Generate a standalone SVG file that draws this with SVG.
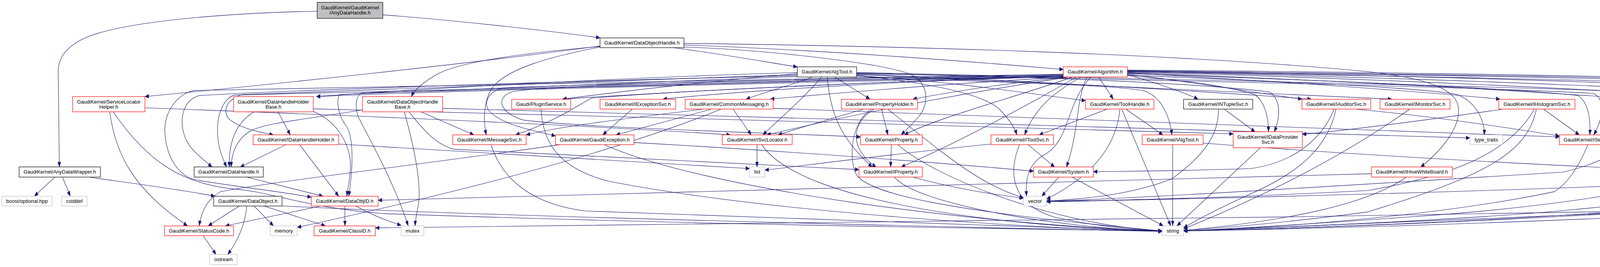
<svg xmlns="http://www.w3.org/2000/svg" width="5444" height="683" viewBox="0 0 5444 683">
<defs>
<marker id="ah" markerWidth="10" markerHeight="8" refX="10" refY="4" orient="auto" markerUnits="userSpaceOnUse"><path d="M0,0 L10,4 L0,8 z" fill="#191970" stroke="#191970" stroke-width="0.5"/></marker>
</defs>
<style>
rect{fill:#ffffff;stroke-width:1.2}
.r rect{stroke:#ff0000}
.k rect{stroke:#000000}
.g rect{stroke:#bfbfbf}
.top rect{fill:#bfbfbf;stroke:#000000}
text{font-family:"Liberation Sans",Arial,Helvetica,sans-serif;font-size:13px;text-anchor:middle;fill:#000000}
#edges path{fill:none;stroke:#191970;stroke-width:1.1;vector-effect:non-scaling-stroke;marker-end:url(#ah)}
</style>
<rect x="0" y="0" width="5444" height="683" style="fill:#ffffff;stroke:none"/>
<g id="edges" transform="scale(1,1.307)">
<path d="M812,22 C600,25 330,40 225,72 C168,90 149,115 149,140 L152,327"/>
<path d="M980,29 C1200,42 1420,62 1536,74"/>
<path d="M140,347 L88,384"/>
<path d="M160,347 L180,384"/>
<path d="M230,347 C350,360 470,372 550,384"/>
<path d="M1536,90 C1200,125 700,165 371,189"/>
<path d="M1536,91 C1350,103 1180,120 1120,145 C1085,160 1062,175 1053,189"/>
<path d="M1536,92 C1400,112 1300,135 1262,170 C1238,195 1236,235 1245,264"/>
<path d="M1720,93 C1850,106 1950,120 2041,131"/>
<path d="M1751,88 C2100,98 2450,118 2722,136"/>
<path d="M1751,92 C1950,97 2250,122 2330,145 C2380,162 2378,205 2352,228 C2338,242 2322,252 2307,264"/>
<path d="M1751,85 C2300,90 3000,104 3500,140 C3650,153 3720,172 3732,205 C3745,245 3690,295 3637,327"/>
<path d="M281,219 C295,300 340,370 480,442"/>
<path d="M290,219 C380,320 470,360 600,370 C700,376 770,405 980,418 C1800,440 2600,448 2975,452"/>
<path d="M371,211 C900,226 1500,245 1870,264"/>
<path d="M712,219 L743,264"/>
<path d="M650,219 C610,238 585,270 587,327"/>
<path d="M802,218 C870,240 900,290 897,330 C895,355 890,370 888,384"/>
<path d="M802,213 C1500,225 2600,250 3157,262"/>
<path d="M1078,219 L1213,264"/>
<path d="M1035,219 C1065,300 1080,370 1070,405 C1066,422 1063,432 1063,442"/>
<path d="M928,215 C800,232 680,240 642,256 C606,272 592,300 592,327"/>
<path d="M1047,219 C1080,250 1110,280 1160,292 C1500,305 1900,320 2199,332"/>
<path d="M1133,212 C2000,228 3100,258 3763,270"/>
<path d="M732,283 L615,327"/>
<path d="M767,283 L867,384"/>
<path d="M867,282 C1300,300 1700,318 1919,330"/>
<path d="M633,347 L827,384"/>
<path d="M613,403 L533,442"/>
<path d="M632,403 C627,440 610,470 583,498"/>
<path d="M650,403 L700,442"/>
<path d="M675,403 L833,442"/>
<path d="M722,403 C1200,422 2400,444 2975,453"/>
<path d="M883,403 L883,442"/>
<path d="M910,403 C950,420 990,432 1027,441"/>
<path d="M823,403 L577,442"/>
<path d="M520,461 L553,498"/>
<path d="M1257,283 C1285,350 1360,400 1500,413 C2200,435 2700,448 2975,453"/>
<path d="M1385,214 C1390,280 1430,330 1560,355 C2000,420 2700,448 2975,453"/>
<path d="M1618,214 L1543,264"/>
<path d="M1877,214 L1923,264"/>
<path d="M1820,214 L1577,264"/>
<path d="M1797,214 C1600,232 1430,248 1347,264"/>
<path d="M1845,214 C1500,320 1000,405 761,445"/>
<path d="M1979,212 C2800,230 3600,255 3992,268"/>
<path d="M1435,283 C1100,320 700,355 565,375 C530,390 515,415 510,442"/>
<path d="M1547,283 C1800,370 2500,440 2975,452"/>
<path d="M1623,279 C2000,295 2400,318 2646,335"/>
<path d="M1938,283 L1938,327"/>
<path d="M1950,283 C2050,400 2600,445 2975,452"/>
<path d="M2257,214 L2273,264"/>
<path d="M2237,214 C2180,240 2172,290 2243,327"/>
<path d="M2230,214 C2170,245 2175,325 2195,345 C2235,378 2400,412 2975,452"/>
<path d="M2210,214 C2100,238 2040,252 1992,264"/>
<path d="M2273,214 C2400,290 2500,360 2620,387"/>
<path d="M2282,283 L2280,327"/>
<path d="M2298,283 C2400,350 2700,440 2975,452"/>
<path d="M2290,347 C2350,400 2700,445 2975,453"/>
<path d="M2338,347 C2450,370 2540,380 2620,388"/>
<path d="M2041,142 C1600,152 1100,172 810,189"/>
<path d="M2041,144 C1800,160 1600,178 1440,194"/>
<path d="M2080,151 C2030,165 1960,180 1910,194"/>
<path d="M2137,151 L2227,194"/>
<path d="M2193,148 C2450,160 2650,185 2779,197"/>
<path d="M2193,147 C2400,165 2520,185 2560,215 C2585,235 2598,250 2603,264"/>
<path d="M2118,151 C2125,220 2150,270 2233,327"/>
<path d="M2103,151 C2060,190 2000,230 1953,264"/>
<path d="M2193,150 C2500,160 2850,165 2930,178 C2975,190 2995,230 3000,264"/>
<path d="M2193,145 C2700,160 3100,180 3357,194"/>
<path d="M2193,146 C2800,165 3300,183 3563,194"/>
<path d="M2193,144 C3000,158 3800,170 4080,183 C4110,195 4105,230 4080,264"/>
<path d="M2193,143 C2700,150 3100,165 3250,180 C3280,195 3278,230 3262,258"/>
<path d="M2193,142 C3300,160 4200,175 4360,187 C4395,205 4390,260 4350,327"/>
<path d="M2041,146 C1500,160 900,178 620,185 C580,195 570,215 585,232 C610,250 660,258 700,264"/>
<path d="M2041,148 C1300,162 700,178 510,187 C470,195 460,230 470,260 C480,290 510,305 543,327"/>
<path d="M2041,150 C1600,162 1100,178 870,185 C860,195 865,225 885,245 C905,265 905,320 893,384"/>
<path d="M2722,149 C2300,158 1200,175 810,189"/>
<path d="M2722,149 C2300,158 1700,180 1440,194"/>
<path d="M2722,150 C2300,158 1900,178 1697,194"/>
<path d="M2722,151 C2400,165 2100,185 1972,194"/>
<path d="M2730,151 C2550,165 2420,182 2337,194"/>
<path d="M2722,150 C2200,160 1700,180 1515,192 C1480,205 1430,235 1320,264"/>
<path d="M2722,150 C2000,158 1500,164 1290,172 C1250,178 1238,200 1250,215 C1280,245 1380,258 1422,266"/>
<path d="M2735,151 C2400,190 2150,230 1963,264"/>
<path d="M2745,151 C2600,190 2400,230 2315,264"/>
<path d="M2755,151 C2600,220 2420,290 2307,327"/>
<path d="M2767,151 C2700,180 2650,210 2623,264"/>
<path d="M2783,151 C2755,190 2762,260 2730,327"/>
<path d="M2793,151 C2730,200 2740,270 2680,300 C2630,320 2625,350 2628,384"/>
<path d="M2813,151 L2850,194"/>
<path d="M2886,148 C3050,158 3150,170 3212,185 C3240,200 3248,235 3247,258"/>
<path d="M2886,146 C2950,160 3030,180 3067,194"/>
<path d="M2886,145 C3050,160 3200,180 3333,194"/>
<path d="M2886,143 C3300,160 3650,180 3840,194"/>
<path d="M2886,142 C3500,160 3950,180 4190,194"/>
<path d="M2886,141 C3600,155 4200,180 4457,194"/>
<path d="M2886,140 C3800,155 4400,178 4720,194"/>
<path d="M2886,139 C3900,150 4600,175 4950,194"/>
<path d="M2886,137 C4000,145 4950,158 5217,187 C5290,215 5330,320 5337,384"/>
<path d="M2886,138 C4000,150 4900,165 5110,186 C5150,200 5140,232 5100,246 C5060,256 5020,259 4997,262"/>
<path d="M2886,140 C3800,152 4450,160 4600,178 C4650,195 4650,232 4610,252 C4560,276 4450,305 4395,327"/>
<path d="M2886,144 C3500,160 3900,175 4040,187 C4065,200 4072,230 4070,264"/>
<path d="M2886,147 C3300,160 3650,172 3730,185 C3780,200 3800,235 3800,264"/>
<path d="M2886,139 C4000,148 5000,160 5140,186 C5190,210 5200,260 5200,340 C5200,372 5100,380 5000,385 C4500,405 3500,440 3030,452"/>
<path d="M2722,145 C1800,158 800,170 500,177 C460,180 420,215 422,257 C425,310 460,345 500,352 C600,365 720,375 797,386"/>
<path d="M2722,148 C2000,160 900,178 600,186 C575,192 555,220 557,260 C558,290 570,310 580,327"/>
<path d="M2722,146 C2000,158 1300,175 925,182 C910,190 908,210 918,230 C955,285 1010,360 1045,442"/>
<path d="M2722,147 C2000,155 1400,165 1310,180 C1270,190 1275,220 1340,235 C1500,250 1900,258 2203,268"/>
<path d="M2833,214 L2660,264"/>
<path d="M2883,214 L2977,264"/>
<path d="M2872,214 L2997,442"/>
<path d="M2867,214 C2860,270 2820,335 2679,390"/>
<path d="M2632,283 L2700,327"/>
<path d="M2610,283 C2580,340 2590,400 2700,425 C2800,442 2900,450 2975,452"/>
<path d="M2537,282 C2300,300 2100,320 1958,333"/>
<path d="M3002,283 L3002,442"/>
<path d="M3080,280 C3500,305 4000,325 4260,333"/>
<path d="M3135,214 L3213,258"/>
<path d="M3119,214 C3120,260 3090,300 3000,350 C2900,380 2780,390 2679,393"/>
<path d="M3227,289 L3013,442"/>
<path d="M3415,214 C3380,280 3300,320 3200,330 C3000,335 2900,335 2799,336"/>
<path d="M3420,214 C3400,290 3320,340 3200,380 C3100,415 3060,432 3030,446"/>
<path d="M3475,214 C3700,230 3900,255 3992,266"/>
<path d="M3608,214 C3450,300 3250,380 3030,448"/>
<path d="M3600,347 C3500,400 3300,432 3030,451"/>
<path d="M3511,340 C2500,355 1500,380 968,392"/>
<path d="M3845,214 C3650,235 3450,255 3334,263"/>
<path d="M3928,214 C3870,290 3750,340 3500,373 C3200,385 2900,392 2679,394"/>
<path d="M3933,214 C3910,300 3800,345 3500,415 C3300,435 3150,445 3030,451"/>
<path d="M3952,214 L4043,264"/>
<path d="M4107,283 L4293,327"/>
<path d="M4065,283 C4040,330 4010,360 3980,375 C3700,420 3300,445 3030,452"/>
<path d="M4230,214 L4100,264"/>
<path d="M4248,214 C4180,290 4100,320 4000,337 C3500,360 3000,385 2679,394"/>
<path d="M4282,214 C4380,240 4450,310 4400,360 C4300,400 3900,428 3030,452"/>
<path d="M4460,214 L4133,264"/>
<path d="M4517,214 C4510,260 4500,300 4483,333 C4460,370 4400,400 4300,410 C3900,430 3400,446 3030,452"/>
<path d="M4693,214 C4550,230 4300,250 4150,264"/>
<path d="M4773,214 C4650,280 4450,380 4300,405 C3900,430 3400,446 3030,452"/>
<path d="M5000,214 L4933,264"/>
<path d="M4980,214 C4700,290 4450,345 4200,362 C3600,380 3000,390 2679,395"/>
<path d="M4830,283 C4650,305 4500,318 4423,327"/>
<path d="M4902,283 C4800,350 4650,405 4450,415 C4000,432 3500,446 3030,452"/>
<path d="M5237,400 C4000,418 2000,440 961,446"/>
<path d="M4307,347 C4200,380 3900,410 3600,425 C3400,436 3200,446 3030,452"/>
<path d="M2710,347 L2667,384"/>
<path d="M2745,347 L2978,442"/>
</g>
<g id="n1" class="top"><rect x="812" y="6" width="168" height="41"/><text x="896" y="24">GaudiKernel/GaudiKernel</text><text x="896" y="37">/AnyDataHandle.h</text></g>
<g id="n2" class="k"><rect x="49" y="427" width="208" height="26"/><text x="153" y="443.5">GaudiKernel/AnyDataWrapper.h</text></g>
<g id="n3" class="k"><rect x="1536" y="97" width="215" height="25"/><text x="1643.5" y="113.5">GaudiKernel/DataObjectHandle.h</text></g>
<g id="n4" class="k"><rect x="2041" y="171" width="152" height="26"/><text x="2117" y="187.5">GaudiKernel/AlgTool.h</text></g>
<g id="n5" class="r"><rect x="2722" y="171" width="164" height="26"/><text x="2804" y="187.5">GaudiKernel/Algorithm.h</text></g>
<g id="n6" class="r"><rect x="186" y="247" width="185" height="39"/><text x="278.5" y="264.5">GaudiKernel/ServiceLocator</text><text x="278.5" y="277.5">Helper.h</text></g>
<g id="n7" class="r"><rect x="598" y="247" width="204" height="39"/><text x="700" y="264.5">GaudiKernel/DataHandleHolder</text><text x="700" y="277.5">Base.h</text></g>
<g id="n8" class="r"><rect x="928" y="247" width="205" height="39"/><text x="1030.5" y="264.5">GaudiKernel/DataObjectHandle</text><text x="1030.5" y="277.5">Base.h</text></g>
<g id="n9" class="r"><rect x="1310" y="254" width="151" height="25"/><text x="1385.5" y="270.5">Gaudi/PluginService.h</text></g>
<g id="n10" class="r"><rect x="1536" y="254" width="194" height="25"/><text x="1633" y="270.5">GaudiKernel/IExceptionSvc.h</text></g>
<g id="n11" class="r"><rect x="1754" y="254" width="225" height="25"/><text x="1866.5" y="270.5">GaudiKernel/CommonMessaging.h</text></g>
<g id="n12" class="r"><rect x="2154" y="254" width="195" height="25"/><text x="2251.5" y="270.5">GaudiKernel/PropertyHolder.h</text></g>
<g id="n13" class="r"><rect x="2779" y="254" width="175" height="25"/><text x="2866.5" y="270.5">GaudiKernel/ToolHandle.h</text></g>
<g id="n14" class="k"><rect x="3030" y="254" width="177" height="25"/><text x="3118.5" y="270.5">GaudiKernel/INTupleSvc.h</text></g>
<g id="n15" class="r"><rect x="3333" y="254" width="176" height="25"/><text x="3421" y="270.5">GaudiKernel/IAuditorSvc.h</text></g>
<g id="n16" class="r"><rect x="3533" y="254" width="179" height="25"/><text x="3622.5" y="270.5">GaudiKernel/IMonitorSvc.h</text></g>
<g id="n17" class="r"><rect x="3837" y="254" width="195" height="25"/><text x="3934.5" y="270.5">GaudiKernel/IHistogramSvc.h</text></g>
<g id="n18" class="r"><rect x="4157" y="254" width="195" height="25"/><text x="4254.5" y="270.5">GaudiKernel/IRndmGenSvc.h</text></g>
<g id="n19" class="r"><rect x="4427" y="254" width="184" height="25"/><text x="4519" y="270.5">GaudiKernel/ITimelineSvc.h</text></g>
<g id="n20" class="r"><rect x="4686" y="254" width="201" height="25"/><text x="4786.5" y="270.5">GaudiKernel/IChronoStatSvc.h</text></g>
<g id="n21" class="r"><rect x="4912" y="254" width="200" height="25"/><text x="5012" y="270.5">GaudiKernel/IAlgContextSvc.h</text></g>
<g id="n22" class="r"><rect x="648" y="345" width="219" height="25"/><text x="757.5" y="361.5">GaudiKernel/IDataHandleHolder.h</text></g>
<g id="n23" class="r"><rect x="1159" y="345" width="188" height="25"/><text x="1253" y="361.5">GaudiKernel/IMessageSvc.h</text></g>
<g id="n24" class="r"><rect x="1422" y="345" width="201" height="25"/><text x="1522.5" y="361.5">GaudiKernel/GaudiException.h</text></g>
<g id="n25" class="r"><rect x="1849" y="345" width="179" height="25"/><text x="1938.5" y="361.5">GaudiKernel/ISvcLocator.h</text></g>
<g id="n26" class="r"><rect x="2203" y="345" width="158" height="25"/><text x="2282" y="361.5">GaudiKernel/Property.h</text></g>
<g id="n27" class="r"><rect x="2537" y="345" width="160" height="25"/><text x="2617" y="361.5">GaudiKernel/IToolSvc.h</text></g>
<g id="n28" class="r"><rect x="2924" y="345" width="156" height="25"/><text x="3002" y="361.5">GaudiKernel/IAlgTool.h</text></g>
<g id="n29" class="r"><rect x="3157" y="337" width="177" height="41"/><text x="3245.5" y="355">GaudiKernel/IDataProvider</text><text x="3245.5" y="368">Svc.h</text></g>
<g id="n30" class="g"><rect x="3763" y="345" width="84" height="25"/><text x="3805" y="361.5">type_traits</text></g>
<g id="n31" class="r"><rect x="3992" y="345" width="155" height="25"/><text x="4069.5" y="361.5">GaudiKernel/IService.h</text></g>
<g id="n32" class="r"><rect x="4829" y="345" width="168" height="25"/><text x="4913" y="361.5">GaudiKernel/IAlgorithm.h</text></g>
<g id="n33" class="k"><rect x="497" y="427" width="177" height="26"/><text x="585.5" y="443.5">GaudiKernel/DataHandle.h</text></g>
<g id="n34" class="g"><rect x="1919" y="427" width="39" height="26"/><text x="1938.5" y="443.5">list</text></g>
<g id="n35" class="r"><rect x="2199" y="427" width="162" height="26"/><text x="2280" y="443.5">GaudiKernel/IProperty.h</text></g>
<g id="n36" class="r"><rect x="2646" y="427" width="153" height="26"/><text x="2722.5" y="443.5">GaudiKernel/System.h</text></g>
<g id="n37" class="r"><rect x="3511" y="427" width="207" height="26"/><text x="3614.5" y="443.5">GaudiKernel/IHiveWhiteBoard.h</text></g>
<g id="n38" class="r"><rect x="4260" y="427" width="157" height="26"/><text x="4338.5" y="443.5">GaudiKernel/IStateful.h</text></g>
<g id="n39" class="g"><rect x="5" y="502" width="128" height="25"/><text x="69" y="518.5">boost/optional.hpp</text></g>
<g id="n40" class="g"><rect x="158" y="502" width="65" height="25"/><text x="190.5" y="518.5">cstddef</text></g>
<g id="n41" class="k"><rect x="547" y="502" width="175" height="25"/><text x="634.5" y="518.5">GaudiKernel/DataObject.h</text></g>
<g id="n42" class="r"><rect x="797" y="502" width="171" height="25"/><text x="882.5" y="518.5">GaudiKernel/DataObjID.h</text></g>
<g id="n43" class="g"><rect x="2620" y="502" width="59" height="25"/><text x="2649.5" y="518.5">vector</text></g>
<g id="n44" class="r"><rect x="5237" y="502" width="202" height="25"/><text x="5338" y="518.5">GaudiKernel/IConversionSvc.h</text></g>
<g id="n45" class="r"><rect x="421" y="578" width="177" height="25"/><text x="509.5" y="594.5">GaudiKernel/StatusCode.h</text></g>
<g id="n46" class="g"><rect x="692" y="578" width="69" height="25"/><text x="726.5" y="594.5">memory</text></g>
<g id="n47" class="r"><rect x="804" y="578" width="157" height="25"/><text x="882.5" y="594.5">GaudiKernel/ClassID.h</text></g>
<g id="n48" class="g"><rect x="1027" y="578" width="58" height="25"/><text x="1056" y="594.5">mutex</text></g>
<g id="n49" class="g"><rect x="2975" y="578" width="55" height="25"/><text x="3002.5" y="594.5">string</text></g>
<g id="n50" class="g"><rect x="537" y="651" width="70" height="26"/><text x="572" y="667.5">ostream</text></g>
</svg>
